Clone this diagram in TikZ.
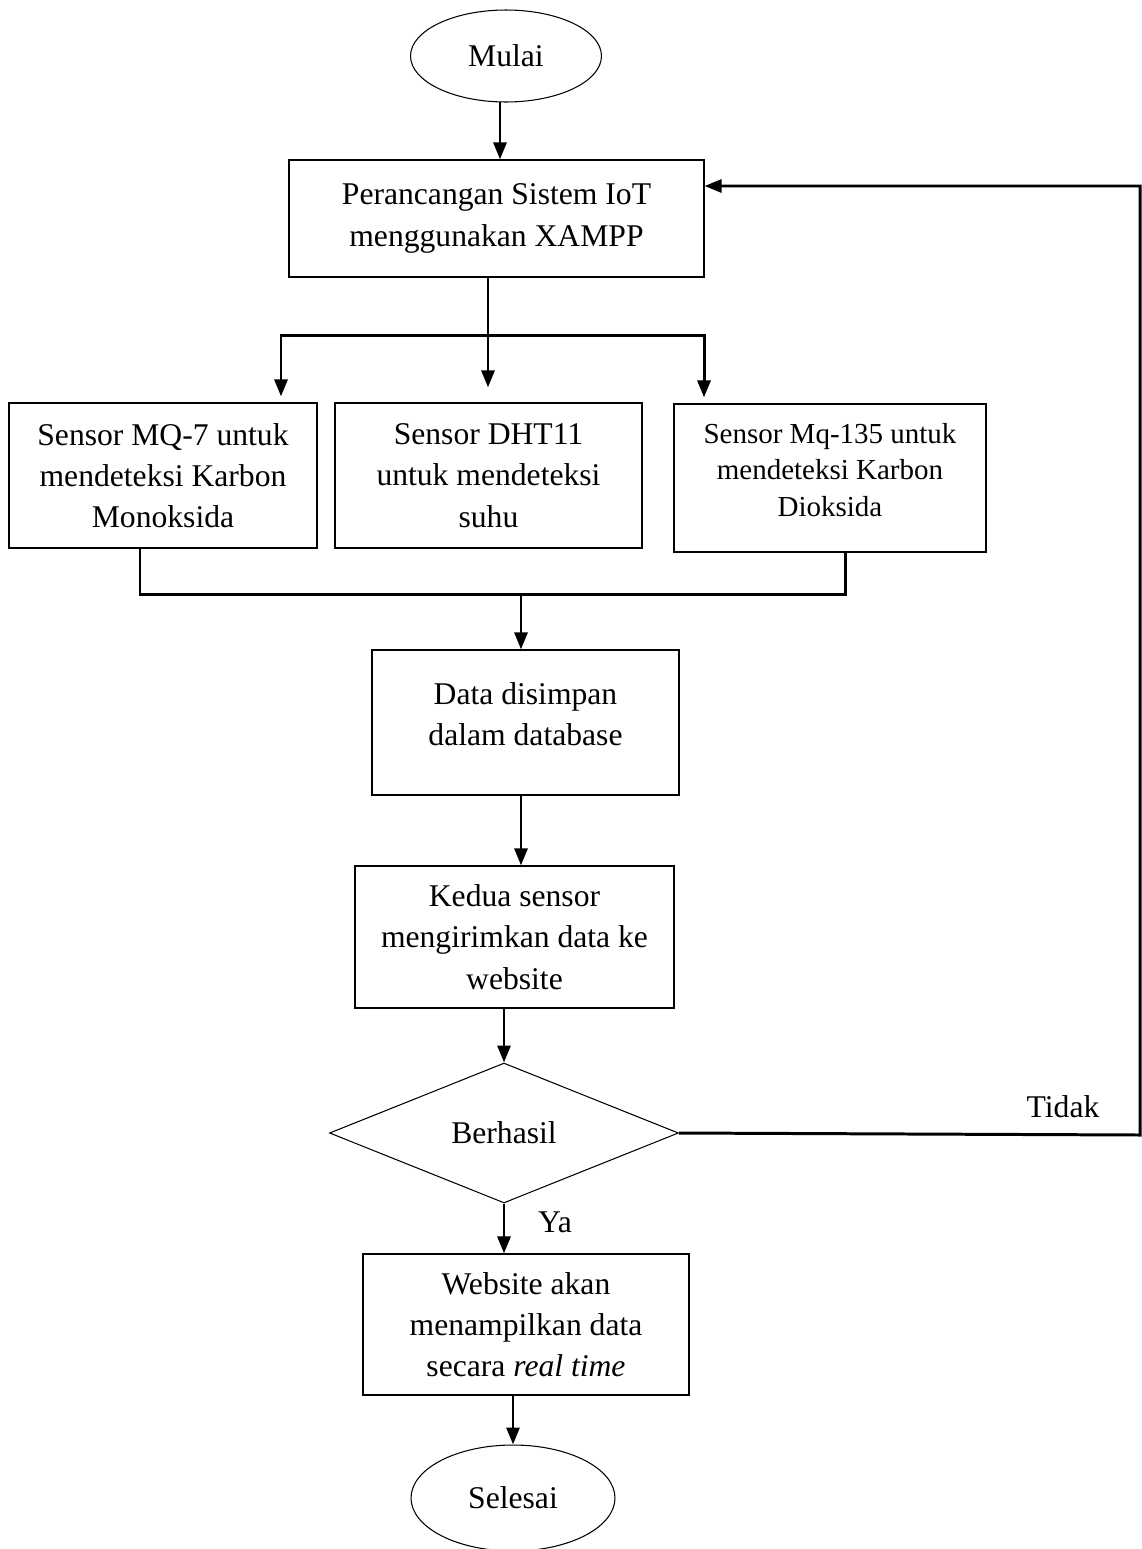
\documentclass[tikz,border=0pt]{standalone}
\usepackage{fontspec}
\setmainfont{Liberation Serif}
\usetikzlibrary{shapes.geometric,arrows.meta}
\begin{document}
\begin{tikzpicture}[x=0.02cm,y=-0.02cm,
  box/.style={draw,line width=0.7pt,rectangle,inner sep=0pt,align=center,font=\fontsize{18}{23.5}\selectfont},
  boxsmall/.style={box,font=\fontsize{16.5}{21}\selectfont},
  txt/.style={inner sep=0pt,align=center,font=\fontsize{18}{23.5}\selectfont},
  txtsmall/.style={txt,font=\fontsize{16.5}{21}\selectfont},
  ell/.style={draw,line width=0.6pt,ellipse,inner sep=0pt,font=\fontsize{18}{23.5}\selectfont},
  decision/.style={draw,line width=0.6pt,diamond,aspect=2.5,inner sep=0pt,font=\fontsize{18}{23.5}\selectfont},
  conn/.style={line width=1.7pt},
  arr/.style={conn,-{Triangle[length=0.34cm,width=0.26cm]}},
  lbl/.style={inner sep=0pt,font=\fontsize{18}{23.5}\selectfont}
]
\useasboundingbox (0,0) rectangle (1142,1549);

% nodes
\node[ell,minimum width=3.82cm,minimum height=1.84cm] (mulai) at (506,56) {Mulai};
\node[box,minimum width=8.3cm,minimum height=2.34cm] (box1) at (496.5,218.5) {Perancangan Sistem IoT\\menggunakan XAMPP};
\node[box,minimum width=6.16cm,minimum height=2.9cm] (mq7) at (163,475.5) {Sensor MQ-7 untuk\\mendeteksi Karbon\\Monoksida};
\node[box,minimum width=6.14cm,minimum height=2.9cm] (dht) at (488.5,475.5) {Sensor DHT11\\untuk mendeteksi\\suhu};
\node[boxsmall,minimum width=6.24cm,minimum height=2.96cm] (mq135) at (830,478) {};
\node[txtsmall] (mq135text) at (830,470) {Sensor Mq-135 untuk\\mendeteksi Karbon\\Dioksida};
\node[box,minimum width=6.14cm,minimum height=2.9cm] (data) at (525.5,722.5) {};
\node[txt] (datatext) at (525.5,714) {Data disimpan\\dalam database};
\node[box,minimum width=6.38cm,minimum height=2.84cm] (kedua) at (514.5,937) {Kedua sensor\\mengirimkan data ke\\website};
\node[decision,minimum width=6.98cm,minimum height=2.8cm] (dia) at (504,1133) {Berhasil};
\node[box,minimum width=6.52cm,minimum height=2.82cm] (web) at (526,1324.5) {Website akan\\menampilkan data\\secara \textit{real time}};
\node[ell,minimum width=4.08cm,minimum height=2.12cm] (sel) at (513,1498) {Selesai};

\node[lbl] (tidak) at (1063,1107) {Tidak};
\node[lbl] (ya) at (555,1222) {Ya};

% helper coordinates
\coordinate (m1) at (500,102);
\coordinate (bj) at (488,335);
\coordinate (bl) at (281,335);
\coordinate (br) at (704,335);
\coordinate (ml) at (140,594);
\coordinate (mr) at (845,594);
\coordinate (mj) at (521,594);
\coordinate (r1) at (1140,1135);
\coordinate (r2) at (1140,186);

% connectors
\draw[arr] (m1) -- (m1 |- box1.north);
\draw[conn] (box1.south -| bj) -- (bj);
\draw[arr,shorten >=0.12cm] (bj) -- (bl) -- (bl |- mq7.north);
\draw[arr,shorten >=0.3cm] (bj) -- (bj |- dht.north);
\draw[arr,shorten >=0.12cm] (bj) -- (br) -- (br |- mq135.north);
\draw[conn] (mq7.south -| ml) -- (ml) -- (mr) -- (mq135.south -| mr);
\draw[arr] (mj) -- (mj |- data.north);
\draw[arr] (data.south -| mj) -- (kedua.north -| mj);
\draw[arr] (kedua.south -| dia.north) -- (dia.north);
\draw[arr] (dia.south) -- (dia.south |- web.north);
\draw[arr] (web.south -| sel.north) -- (sel.north);
\draw[arr] (dia.east) -- (r1) -- (r2) -- (r2 -| box1.east);
\end{tikzpicture}
\end{document}
